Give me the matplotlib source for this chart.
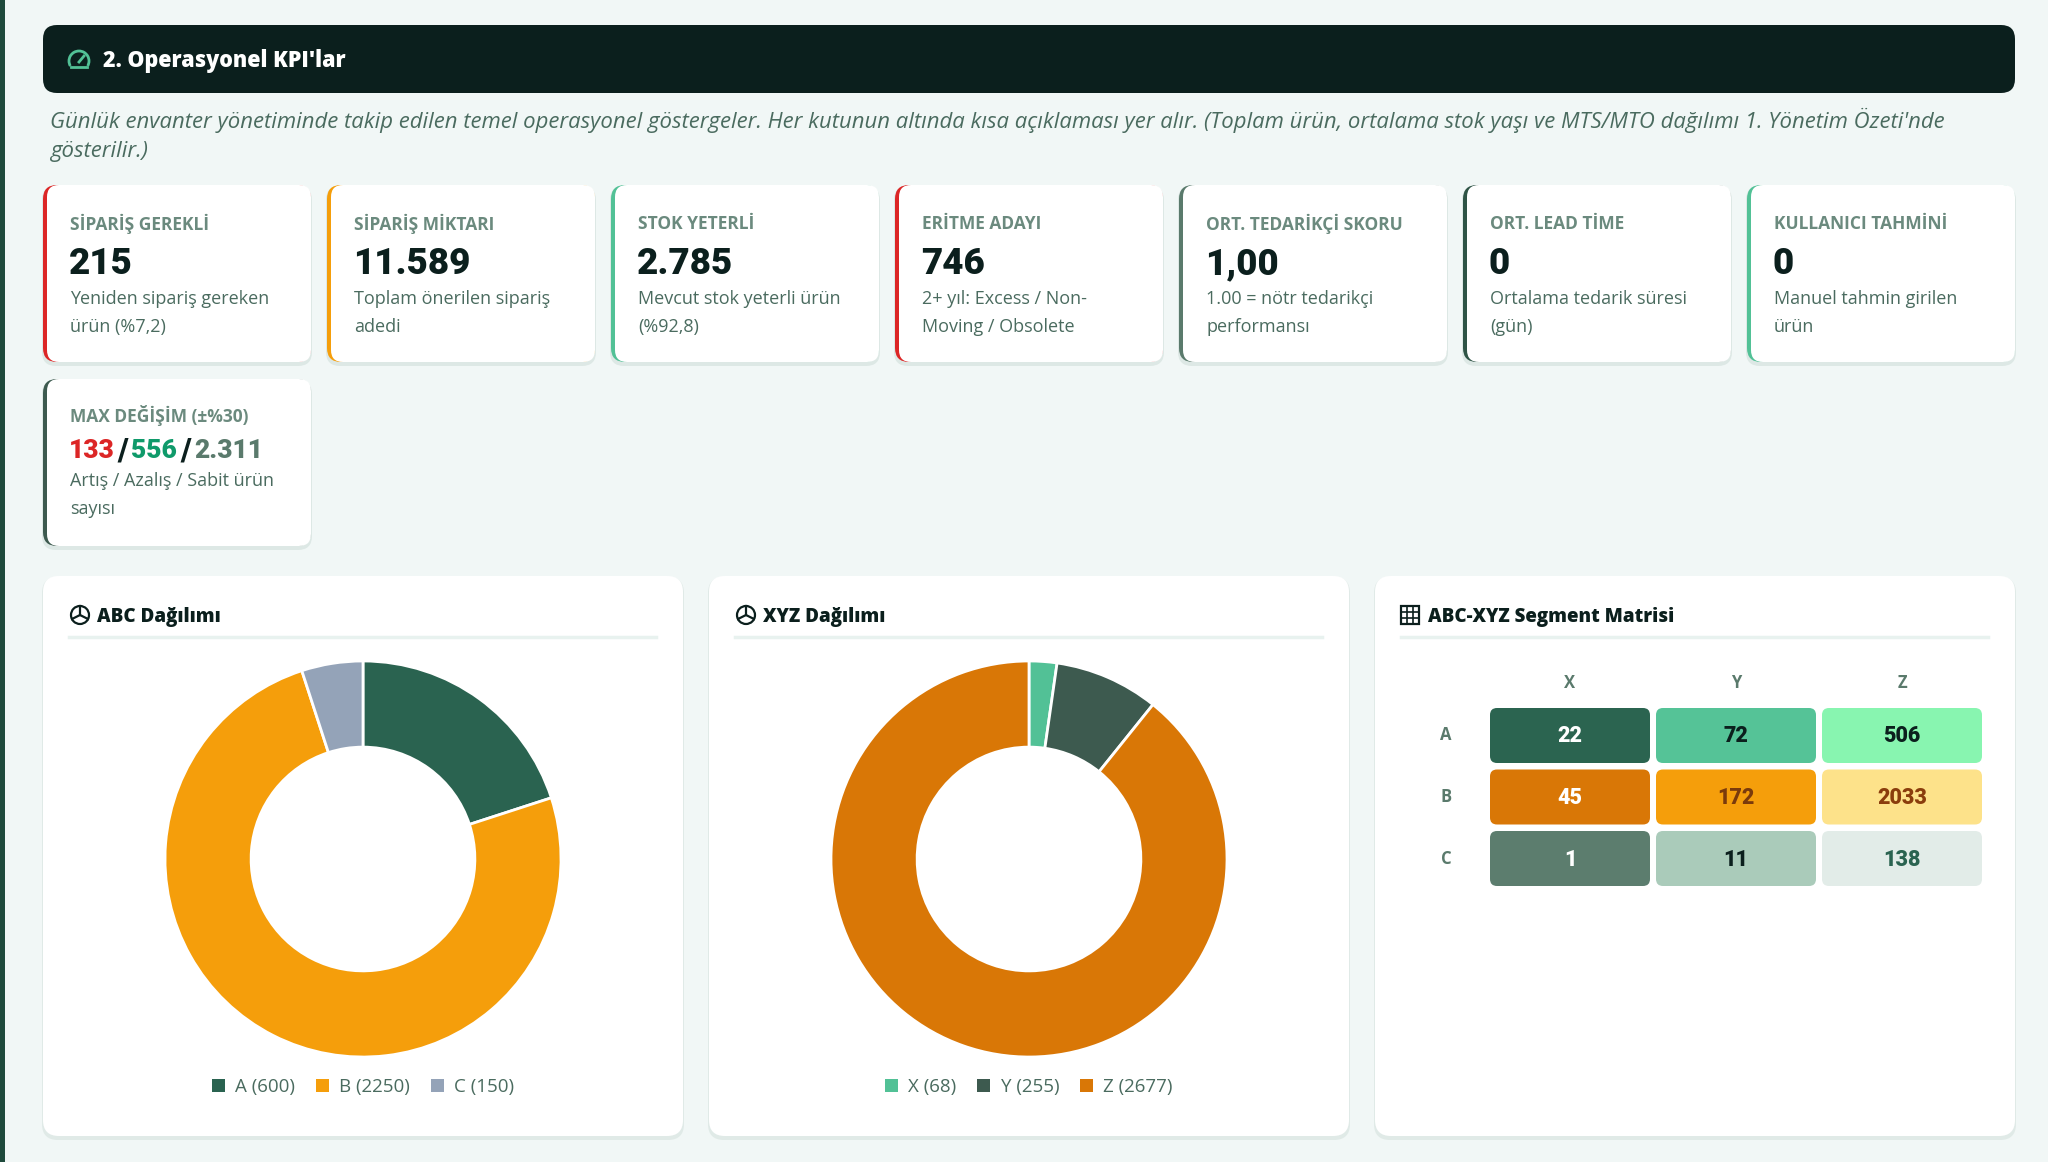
import matplotlib
matplotlib.use("Agg")
import matplotlib.pyplot as plt
from matplotlib.patches import FancyBboxPatch, Rectangle, Arc, Circle
from matplotlib.lines import Line2D

# ---------------- data ----------------
section_title = "2. Operasyonel KPI'lar"
intro_lines = [
    "Günlük envanter yönetiminde takip edilen temel operasyonel göstergeler. Her kutunun altında kısa açıklaması yer alır. "
    "(Toplam ürün, ortalama stok yaşı ve MTS/MTO dağılımı 1. Yönetim Özeti'nde",
    "gösterilir.)",
]
kpi_labels = ["SİPARİŞ GEREKLİ", "SİPARİŞ MİKTARI", "STOK YETERLİ", "ERİTME ADAYI",
              "ORT. TEDARİKÇİ SKORU", "ORT. LEAD TİME", "KULLANICI TAHMİNİ"]
kpi_values = ["215", "11.589", "2.785", "746", "1,00", "0", "0"]
kpi_desc = [
    ["Yeniden sipariş gereken", "ürün (%7,2)"],
    ["Toplam önerilen sipariş", "adedi"],
    ["Mevcut stok yeterli ürün", "(%92,8)"],
    ["2+ yıl: Excess / Non-", "Moving / Obsolete"],
    ["1.00 = nötr tedarikçi", "performansı"],
    ["Ortalama tedarik süresi", "(gün)"],
    ["Manuel tahmin girilen", "ürün"],
]
change_label = "MAX DEĞİŞİM (±%30)"
change_values = ["133", "556", "2.311"]
change_desc = ["Artış / Azalış / Sabit ürün", "sayısı"]

abc_title = "ABC Dağılımı"
abc_labels = ["A", "B", "C"]
abc_counts = [600, 2250, 150]

xyz_title = "XYZ Dağılımı"
xyz_labels = ["X", "Y", "Z"]
xyz_counts = [68, 255, 2677]

matrix_title = "ABC-XYZ Segment Matrisi"
matrix_rows = ["A", "B", "C"]
matrix_cols = ["X", "Y", "Z"]
matrix_values = [[22, 72, 506],
                 [45, 172, 2033],
                 [1, 11, 138]]

# ---------------- style ----------------
W, H, DPI = 2048, 1162, 100
BG = "#f1f7f6"
DARK = "#0b1f1d"
MUTED = "#6b8a7e"
BODY = "#4a6b5f"
FONT = ["Open Sans", "DejaVu Sans"]
HEAVY = ["Roboto", "DejaVu Sans"]
kpi_accent = ["#dc2626", "#f59e0b", "#52c196", "#dc2626", "#5a7a6c", "#2f5446", "#52c196"]
change_accent = "#3d5a4f"
change_colors = ["#dc2626", "#0f9a6a", "#5a7a6c"]
abc_colors = ["#2a6350", "#f59e0b", "#94a3b8"]
xyz_colors = ["#52c196", "#3d5a4f", "#d97706"]
cell_colors = [["#2b6450", "#55c397", "#88f5b0"],
               ["#d97706", "#f59e0b", "#fde28a"],
               ["#5c7d6e", "#aacbba", "#e2ece8"]]
cell_text = [["white", DARK, DARK],
             ["white", "#7a3a0c", "#8a3d0c"],
             ["white", DARK, "#2a6350"]]

plt.rcParams["font.family"] = FONT

fig = plt.figure(figsize=(W / DPI, H / DPI), dpi=DPI, facecolor=BG)
ax = fig.add_axes([0, 0, 1, 1])
ax.set_xlim(0, W)
ax.set_ylim(H, 0)
ax.axis("off")
ax.set_facecolor(BG)


def rbox(x, y, w, h, r, color, z=1, **kw):
    p = FancyBboxPatch((x, y), w, h, boxstyle=f"round,pad=0,rounding_size={r}",
                       facecolor=color, edgecolor="none", zorder=z, **kw)
    ax.add_patch(p)
    return p


def card(x, y, w, h, accent, r=14):
    rbox(x - 1, y + 1, w + 2, h + 3, r, "#dde8e5", z=1)
    rbox(x, y, w, h, r, accent, z=2)
    rbox(x + 4, y, w - 4, h, r - 2, "white", z=3)


# left strip
ax.add_patch(Rectangle((0, 0), 5, H, facecolor="#1f4a3c", edgecolor="none", zorder=5))

# header
rbox(43, 25, 1972, 68, 14, DARK, z=2)
# gauge icon
gx, gy, gr = 79, 59, 10
ax.add_patch(Arc((gx, gy + 2), 2 * gr, 2 * gr, theta1=150, theta2=390, color="#52c196", lw=2, zorder=4))
ax.add_line(Line2D([gx - 8, gx + 8], [gy + 8, gy + 8], color="#52c196", lw=2, zorder=4))
ax.add_line(Line2D([gx, gx + 5], [gy + 3, gy - 3], color="#52c196", lw=2, zorder=4))
ax.text(103, 61, section_title, color="white", fontsize=15.5, fontweight="heavy",
        va="center", ha="left", zorder=4)

# intro
for i, line in enumerate(intro_lines):
    ax.text(50, 120 + 31 * i, line, color=BODY, fontsize=15.9, style="italic",
            va="center", ha="left")

# KPI cards row 1
cw, ch, gap = 268, 177, 16
for i in range(len(kpi_labels)):
    x = 43 + i * (cw + gap)
    y = 185
    card(x, y, cw, ch, kpi_accent[i])
    ax.text(x + 27, y + 39, kpi_labels[i], color=MUTED, fontsize=12.5, fontweight="bold",
            va="center", ha="left", zorder=5)
    ax.text(x + 26, y + 79, kpi_values[i], color=DARK, fontsize=26.5, fontweight="black",
            family=HEAVY, va="center", ha="left", zorder=5)
    for j, d in enumerate(kpi_desc[i]):
        ax.text(x + 27, y + 114 + 28 * j, d, color=BODY, fontsize=13, va="center",
                ha="left", zorder=5)

# change card (row 2)
x, y = 43, 379
card(x, y, cw, 167, change_accent)
ax.text(x + 27, y + 37, change_label, color=MUTED, fontsize=12.5, fontweight="bold",
        va="center", ha="left", zorder=5)
fig.canvas.draw()
renderer = fig.canvas.get_renderer()
cx = x + 26
pieces = []
for k, v in enumerate(change_values):
    pieces.append((v, change_colors[k], 19))
    if k < len(change_values) - 1:
        pieces.append(("/", DARK, 22))
for txt, col, fs in pieces:
    t = ax.text(cx, y + 72, txt, color=col, fontsize=fs, fontweight="black", family=HEAVY,
                va="center", ha="left", zorder=5)
    bb = t.get_window_extent(renderer=renderer)
    cx += bb.width + 3
for j, d in enumerate(change_desc):
    ax.text(x + 27, y + 102 + 28 * j, d, color=BODY, fontsize=13, va="center",
            ha="left", zorder=5)

# panels
panel_x = [43, 709, 1375]
pw, py, ph = 640, 576, 560
titles = [abc_title, xyz_title, matrix_title]
for k, px in enumerate(panel_x):
    rbox(px - 1, py + 1, pw + 2, ph + 3, 16, "#e0eae7", z=1)
    rbox(px, py, pw, ph, 16, "white", z=2)
    ax.add_line(Line2D([px + 26, px + pw - 27], [637, 637], color="#e8f2ef", lw=2.5, zorder=3))
    ix, iy = px + 37, 615
    if k < 2:
        ax.add_patch(Circle((ix, iy), 9, fill=False, edgecolor=DARK, lw=1.6, zorder=4))
        ax.add_line(Line2D([ix, ix], [iy - 9, iy], color=DARK, lw=1.6, zorder=4))
        ax.add_line(Line2D([ix - 8, ix, ix + 8], [iy + 4, iy, iy + 4], color=DARK, lw=1.6, zorder=4))
        tx = ix + 17
    else:
        ix = px + 35
        ax.add_patch(Rectangle((ix - 9, iy - 9), 18, 18, fill=False, edgecolor=DARK, lw=1.6, zorder=4))
        for s in (-3, 3):
            ax.add_line(Line2D([ix - 9, ix + 9], [iy + s, iy + s], color=DARK, lw=1.2, zorder=4))
            ax.add_line(Line2D([ix + s, ix + s], [iy - 9, iy + 9], color=DARK, lw=1.2, zorder=4))
        tx = ix + 18
    ax.text(tx, iy + 2, titles[k], color=DARK, fontsize=13.5, fontweight="heavy",
            va="center", ha="left", zorder=4)


# donuts
def donut(center_x, center_y, counts, labels, colors):
    R = 200
    dax = fig.add_axes([(center_x - R) / W, (H - center_y - R) / H, 2 * R / W, 2 * R / H])
    wedges, _ = dax.pie(counts, colors=colors, startangle=90, counterclock=False, radius=1,
                        wedgeprops=dict(width=87 / 200, edgecolor="white", linewidth=2))
    dax.set_xlim(-1.01, 1.01)
    dax.set_ylim(-1.01, 1.01)
    dax.set_aspect("equal")
    dax.axis("off")
    handles = [Rectangle((0, 0), 1, 1, facecolor=c, edgecolor="none") for c in colors]
    leg_labels = [f"{l} ({c})" for l, c in zip(labels, counts)]
    fig.legend(handles, leg_labels, loc="center", bbox_to_anchor=(center_x / W, 1 - 1087 / H),
               ncol=len(labels), frameon=False, fontsize=13.5, labelcolor=BODY,
               handlelength=0.7, handleheight=0.7, handletextpad=0.55, columnspacing=1.1)


donut(363, 859, abc_counts, abc_labels, abc_colors)
donut(1029, 859, xyz_counts, xyz_labels, xyz_colors)

# matrix
mx0, my0 = 1490, 708
mw, mh = 160, 55
mpx, mpy = 166, 61.5
for j, c in enumerate(matrix_cols):
    ax.text(mx0 + j * mpx + mw / 2, 683, c, color="#5a7a6c", fontsize=12, fontweight="bold",
            ha="center", va="center", zorder=4)
for i, r in enumerate(matrix_rows):
    ax.text(1446, my0 + i * mpy + mh / 2, r, color="#5a7a6c", fontsize=12, fontweight="bold",
            ha="center", va="center", zorder=4)
    for j in range(len(matrix_cols)):
        cxp = mx0 + j * mpx
        cyp = my0 + i * mpy
        rbox(cxp, cyp, mw, mh, 7, cell_colors[i][j], z=4)
        ax.text(cxp + mw / 2, cyp + mh / 2 + 1, str(matrix_values[i][j]), color=cell_text[i][j],
                fontsize=15.5, fontweight="black", family=HEAVY, ha="center", va="center", zorder=5)

fig.savefig("out.png", dpi=DPI, facecolor=BG)
